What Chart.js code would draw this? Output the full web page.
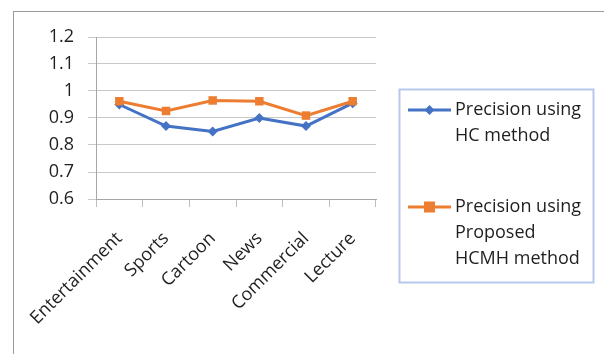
<!DOCTYPE html>
<html>
<head>
<meta charset="utf-8">
<script src="https://cdn.jsdelivr.net/npm/chart.js@4/dist/chart.umd.min.js"></script>
<style>
  html, body { margin: 0; padding: 0; background: #ffffff; }
  #wrap { position: relative; width: 604px; height: 354px; }
</style>
</head>
<body>
<div id="wrap"><canvas id="chart" width="604" height="354"></canvas></div>
<script>
// Video genres evaluated
const categories = ['Entertainment', 'Sports', 'Cartoon', 'News', 'Commercial', 'Lecture'];

// Precision per genre for each method
const precisionHC = [0.95, 0.87, 0.85, 0.90, 0.87, 0.955];
const precisionHCMH = [0.962, 0.926, 0.965, 0.962, 0.909, 0.962];

// Legend captions, one entry per printed line
const labelHC = ['Precision using', 'HC method'];
const labelHCMH = ['Precision using', 'Proposed', 'HCMH method'];

// Value axis ticks
const yTicks = [0.6, 0.7, 0.8, 0.9, 1.0, 1.1, 1.2];

const FONT = '"Open Sans", "Noto Sans", sans-serif';
const BLUE = '#4472C4';
const ORANGE = '#ED7D31';

// Outer frame around the chart object
const framePlugin = {
  id: 'frame',
  beforeDraw(chart) {
    const ctx = chart.ctx;
    ctx.save();
    ctx.fillStyle = '#ffffff';
    ctx.fillRect(0, 0, chart.width, chart.height);
    ctx.strokeStyle = '#9a9a9a';
    ctx.lineWidth = 1;
    ctx.strokeRect(13.5, 11.5, 800, 800);
    ctx.restore();
  }
};

// Boxed legend on the right, captions wrapped over several lines
const boxLegendPlugin = {
  id: 'boxLegend',
  afterDraw(chart) {
    const ctx = chart.ctx;
    const box = { x: 399.5, y: 89.5, w: 194, h: 193 };
    ctx.save();
    ctx.strokeStyle = '#b7c8ec';
    ctx.lineWidth = 2;
    ctx.strokeRect(box.x, box.y, box.w, box.h);
    ctx.font = '18px ' + FONT;
    ctx.textBaseline = 'middle';
    const rows = [110, 207];
    const lineH = 26;
    chart.data.datasets.forEach((ds, i) => {
      const y = rows[i];
      ctx.strokeStyle = ds.borderColor;
      ctx.lineWidth = 3;
      ctx.beginPath();
      ctx.moveTo(408, y);
      ctx.lineTo(451, y);
      ctx.stroke();
      ctx.fillStyle = ds.borderColor;
      if (ds.pointStyle === 'rectRot') {
        ctx.beginPath();
        ctx.moveTo(429.5, y - 5);
        ctx.lineTo(434.5, y);
        ctx.lineTo(429.5, y + 5);
        ctx.lineTo(424.5, y);
        ctx.closePath();
        ctx.fill();
      } else {
        ctx.fillRect(424, y - 5.5, 11, 11);
      }
      ctx.fillStyle = '#1f1f1f';
      ds.label.forEach((t, k) => ctx.fillText(t, 455, y + k * lineH));
    });
    ctx.restore();
  }
};

new Chart(document.getElementById('chart'), {
  type: 'line',
  data: {
    labels: categories,
    datasets: [
      {
        label: labelHC,
        data: precisionHC,
        borderColor: BLUE,
        backgroundColor: BLUE,
        borderWidth: 3,
        pointStyle: 'rectRot',
        pointRadius: 5,
        pointHoverRadius: 5,
        pointBorderWidth: 0,
        tension: 0,
        order: 2
      },
      {
        label: labelHCMH,
        data: precisionHCMH,
        borderColor: ORANGE,
        backgroundColor: ORANGE,
        borderWidth: 3,
        pointStyle: 'rect',
        pointRadius: 6,
        pointHoverRadius: 6,
        pointBorderWidth: 0,
        tension: 0,
        order: 1
      }
    ]
  },
  options: {
    responsive: false,
    animation: false,
    events: [],
    layout: { padding: { left: 0, right: 228, top: 37, bottom: 0 } },
    plugins: {
      legend: { display: false },
      tooltip: { enabled: false }
    },
    scales: {
      x: {
        offset: true,
        grid: {
          offset: true,
          drawOnChartArea: false,
          drawTicks: true,
          tickLength: 8,
          color: '#bfbfbf',
          lineWidth: 1
        },
        border: { color: '#a6a6a6', width: 1 },
        ticks: {
          autoSkip: false,
          maxRotation: 45,
          minRotation: 45,
          padding: 21,
          color: '#1f1f1f',
          font: { family: FONT, size: 18 }
        },
        afterFit(scale) { scale.height = 155; }
      },
      y: {
        min: 0.6,
        max: 1.2,
        afterBuildTicks(scale) { scale.ticks = yTicks.map(v => ({ value: v })); },
        grid: {
          color: '#c8c8c8',
          lineWidth: 1,
          drawTicks: true,
          tickLength: 8
        },
        border: { color: '#a6a6a6', width: 1 },
        ticks: {
          padding: 14,
          color: '#1f1f1f',
          font: { family: FONT, size: 18 },
          callback: v => String(Math.round(v * 10) / 10)
        },
        afterFit(scale) { scale.width = 96; }
      }
    }
  },
  plugins: [framePlugin, boxLegendPlugin]
});
</script>
</body>
</html>
